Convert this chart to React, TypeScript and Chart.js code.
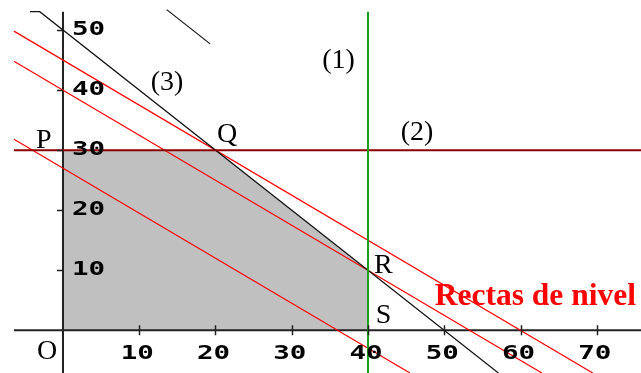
import React, { useEffect, useRef } from "react";
import { Chart, registerables } from "chart.js";

Chart.register(...registerables);

// Scale window (data units)
const X_MIN = -8.26;
const X_MAX = 75.8;
const Y_MIN = -7.1;
const Y_MAX = 55.0;

// Tick values
const xTicks = [10, 20, 30, 40, 50, 60, 70];
const yTicks = [10, 20, 30, 40, 50];

// Feasible region upper boundary (filled down to y = 0)
const regionPoints = [
  { x: 0, y: 30 },
  { x: 20, y: 30 },
  { x: 40, y: 10 },
];

// Constraint lines
const line1 = [
  { x: 40, y: 53.05 },
  { x: 40, y: -7.1 },
]; // x = 40
const line2 = [
  { x: -6.43, y: 30 },
  { x: 75.8, y: 30 },
]; // y = 30
const line3 = [
  { x: -4.33, y: 53.05 },
  { x: -3.05, y: 53.05 },
  { x: 57.1, y: -7.1 },
]; // x + y = 50
const extraSegment = [
  { x: 13.6, y: 53.4 },
  { x: 19.3, y: 47.7 },
];

// Level lines (3x + 4y = c)
const levelLow = [
  { x: -6.43, y: 31.8 },
  { x: 45.5, y: -7.1 },
];
const levelMid = [
  { x: -6.43, y: 44.82 },
  { x: 62.8, y: -7.1 },
];
const levelHigh = [
  { x: -6.43, y: 49.82 },
  { x: 69.47, y: -7.1 },
];

// Axes
const xAxisLine = [
  { x: -6.43, y: 0 },
  { x: 75.8, y: 0 },
];
const yAxisLine = [
  { x: 0, y: 53.05 },
  { x: 0, y: -7.1 },
];

// Annotation labels: text, x, y (left / baseline)
const labelTexts = ["P", "Q", "R", "S", "O", "(1)", "(2)", "(3)"];
const labelX = [-3.55, 20.2, 40.8, 41.0, -3.4, 34.0, 44.3, 11.5];
const labelY = [30.35, 31.35, 9.54, 1.22, -4.78, 43.68, 31.69, 40.01];

const levelTitle = "Rectas de nivel";
const levelTitleX = 48.75;
const levelTitleY = 4.21;

const lineDs = (data: any[], color: string, width: number, order: number) => ({
  data,
  showLine: true,
  borderColor: color,
  borderWidth: width,
  pointRadius: 0,
  fill: false,
  tension: 0,
  order,
});

const annotationPlugin = {
  id: "annotations",
  afterDatasetsDraw(chart: any) {
    const ctx = chart.ctx as CanvasRenderingContext2D;
    const xs = chart.scales.x;
    const ys = chart.scales.y;
    const x0 = xs.getPixelForValue(0);
    const y0 = ys.getPixelForValue(0);
    ctx.save();
    // ticks
    ctx.strokeStyle = "#222";
    ctx.lineWidth = 1.5;
    ctx.beginPath();
    xTicks.forEach((v) => {
      const px = Math.round(xs.getPixelForValue(v)) + 0.5;
      ctx.moveTo(px, y0 - 5);
      ctx.lineTo(px, y0 + 5);
    });
    yTicks.forEach((v) => {
      const py = Math.round(ys.getPixelForValue(v)) + 0.5;
      ctx.moveTo(x0 - 6, py);
      ctx.lineTo(x0, py);
    });
    ctx.stroke();

    // tick labels
    ctx.fillStyle = "#000";
    ctx.font = "bold 19px 'DejaVu Sans Mono'";
    ctx.textBaseline = "middle";
    const sx = 1.45;
    xTicks.forEach((v) => {
      const px = xs.getPixelForValue(v) - 2;
      ctx.save();
      ctx.translate(px, y0 + 24);
      ctx.scale(sx, 1);
      ctx.textAlign = "center";
      ctx.fillText(String(v), 0, 0);
      ctx.restore();
    });
    yTicks.forEach((v) => {
      const py = ys.getPixelForValue(v);
      ctx.save();
      ctx.translate(x0 + 9, py);
      ctx.scale(sx, 1);
      ctx.textAlign = "left";
      ctx.fillText(String(v), 0, 0);
      ctx.restore();
    });

    // point / line labels
    ctx.font = "28px 'Liberation Serif'";
    ctx.textAlign = "left";
    ctx.textBaseline = "alphabetic";
    ctx.fillStyle = "#000";
    labelTexts.forEach((t, i) => {
      ctx.fillText(t, xs.getPixelForValue(labelX[i]), ys.getPixelForValue(labelY[i]));
    });

    ctx.font = "bold 31.5px 'Liberation Serif'";
    ctx.fillStyle = "#ff0000";
    ctx.fillText(levelTitle, xs.getPixelForValue(levelTitleX), ys.getPixelForValue(levelTitleY));
    ctx.restore();
  },
};

export default function App() {
  const canvasRef = useRef<HTMLCanvasElement | null>(null);

  useEffect(() => {
    document.body.style.margin = "0";
    const canvas = canvasRef.current;
    if (!canvas) return;
    const chart = new Chart(canvas, {
      type: "scatter",
      data: {
        datasets: [
          {
            data: regionPoints,
            showLine: true,
            borderWidth: 0,
            borderColor: "rgba(0,0,0,0)",
            backgroundColor: "#c0c0c0",
            pointRadius: 0,
            fill: "origin",
            tension: 0,
            order: 100,
          } as any,
          lineDs(xAxisLine, "#222", 2, 50),
          lineDs(yAxisLine, "#222", 2, 50),
          lineDs(levelLow, "#ff0000", 1.2, 40),
          lineDs(levelMid, "#ff0000", 1.2, 40),
          lineDs(levelHigh, "#ff0000", 1.2, 40),
          lineDs(line3, "#111", 1.2, 30),
          lineDs(extraSegment, "#111", 1.2, 30),
          lineDs(line2, "#8b0000", 2, 20),
          lineDs(line1, "#1e9e1e", 2, 10),
        ],
      },
      options: {
        animation: false,
        responsive: false,
        maintainAspectRatio: false,
        devicePixelRatio: 1,
        layout: { padding: 0 },
        plugins: {
          legend: { display: false },
          tooltip: { enabled: false },
        },
        scales: {
          x: { type: "linear", min: X_MIN, max: X_MAX, display: false },
          y: { type: "linear", min: Y_MIN, max: Y_MAX, display: false },
        },
      },
      plugins: [annotationPlugin],
    });
    return () => chart.destroy();
  }, []);

  return (
    <div style={{ position: "absolute", left: 0, top: 0, width: 641, height: 373, background: "#fff" }}>
      <canvas ref={canvasRef} width={641} height={373} style={{ display: "block", width: 641, height: 373 }} />
    </div>
  );
}
